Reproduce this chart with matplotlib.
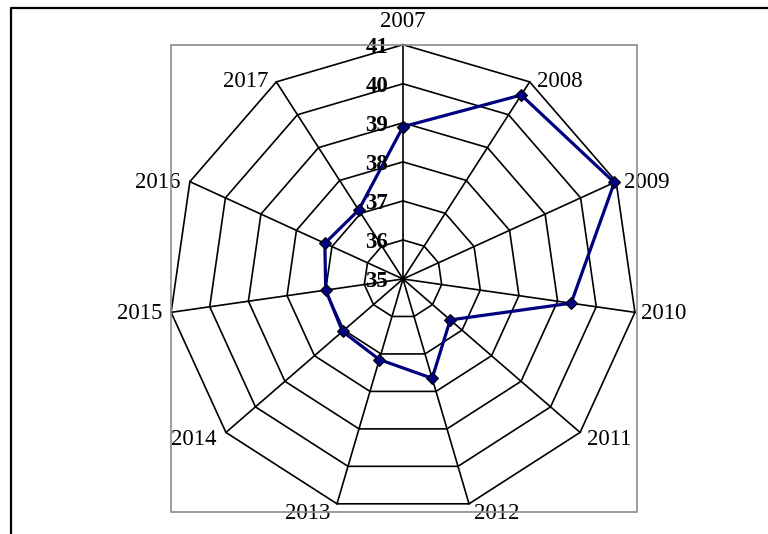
import numpy as np
import matplotlib.pyplot as plt
from matplotlib.patches import Rectangle
from matplotlib.lines import Line2D

# data
years = ['2007', '2008', '2009', '2010', '2011', '2012',
         '2013', '2014', '2015', '2016', '2017']
values = [38.9, 40.6, 40.95, 39.35, 36.6, 37.65, 37.15, 37.05, 37.0, 37.2, 37.1]
ring_values = [35, 36, 37, 38, 39, 40, 41]

# label offsets (points) and alignment for category labels
lab_off = [(0, 12.7), (5, -3.5), (5.8, -4.3), (4.3, -4.5), (4.8, -8.9), (3.8, -10.8),
           (-4.8, -10.8), (-6.7, -8.9), (-6.5, -4.5), (-6.5, -4.8), (-5.8, -3.6)]
lab_ha = ['center', 'left', 'left', 'left', 'left', 'left',
          'right', 'right', 'right', 'right', 'right']

plt.rcParams['font.family'] = ['Liberation Serif', 'DejaVu Serif']

fig = plt.figure(figsize=(7.68, 5.34), dpi=100)
fig.patch.set_facecolor('white')

# outer chart border (only top / left visible in the reference)
fig.add_artist(Line2D([11 / 768, 11 / 768, 1.0], [0.0, 1 - 8 / 534, 1 - 8 / 534],
                      transform=fig.transFigure, color='black', lw=1.6))

# gray plot area frame
fig.add_artist(Rectangle((170.7 / 768, 1 - 512.3 / 534),
                         (637.3 - 170.7) / 768, (512.3 - 44.7) / 534,
                         transform=fig.transFigure, fill=False,
                         edgecolor='#8c8c8c', lw=1.2))

cx, cy, R = 403, 279, 234.3
ax = fig.add_axes([(cx - R) / 768, (534 - cy - R) / 534, 2 * R / 768, 2 * R / 534],
                  projection='polar')
ax.patch.set_alpha(0)
ax.set_theta_zero_location('N')
ax.set_theta_direction(-1)
ax.set_ylim(35, 41)
ax.grid(False)
ax.spines['polar'].set_visible(False)
ax.set_xticks([])
ax.set_yticks([])

n = len(years)
angles = np.linspace(0, 2 * np.pi, n, endpoint=False)
closed = np.append(angles, angles[0])

# web grid
for v in ring_values[1:]:
    ax.plot(closed, [v] * (n + 1), color='black', lw=1.2, clip_on=False, zorder=1)
for a in angles:
    ax.plot([a, a], [35, 41], color='black', lw=1.2, clip_on=False, zorder=1)

# data series
vals = np.append(values, values[0])
ax.plot(closed, vals, color='#000080', lw=2.3, marker='D', ms=6,
        markerfacecolor='#000080', markeredgecolor='black', markeredgewidth=0.8,
        clip_on=False, zorder=3)

# radial value labels
for v in ring_values:
    ax.annotate(str(v), xy=(0, v), xytext=(-10.8, -6.1), textcoords='offset points',
                ha='right', va='baseline', fontsize=16.5, fontweight='bold',
                annotation_clip=False, zorder=4)

# category labels
for a, yr, off, ha in zip(angles, years, lab_off, lab_ha):
    ax.annotate(yr, xy=(a, 41), xytext=off, textcoords='offset points',
                ha=ha, va='baseline', fontsize=16.5, annotation_clip=False)

fig.savefig('out.png', dpi=100)
